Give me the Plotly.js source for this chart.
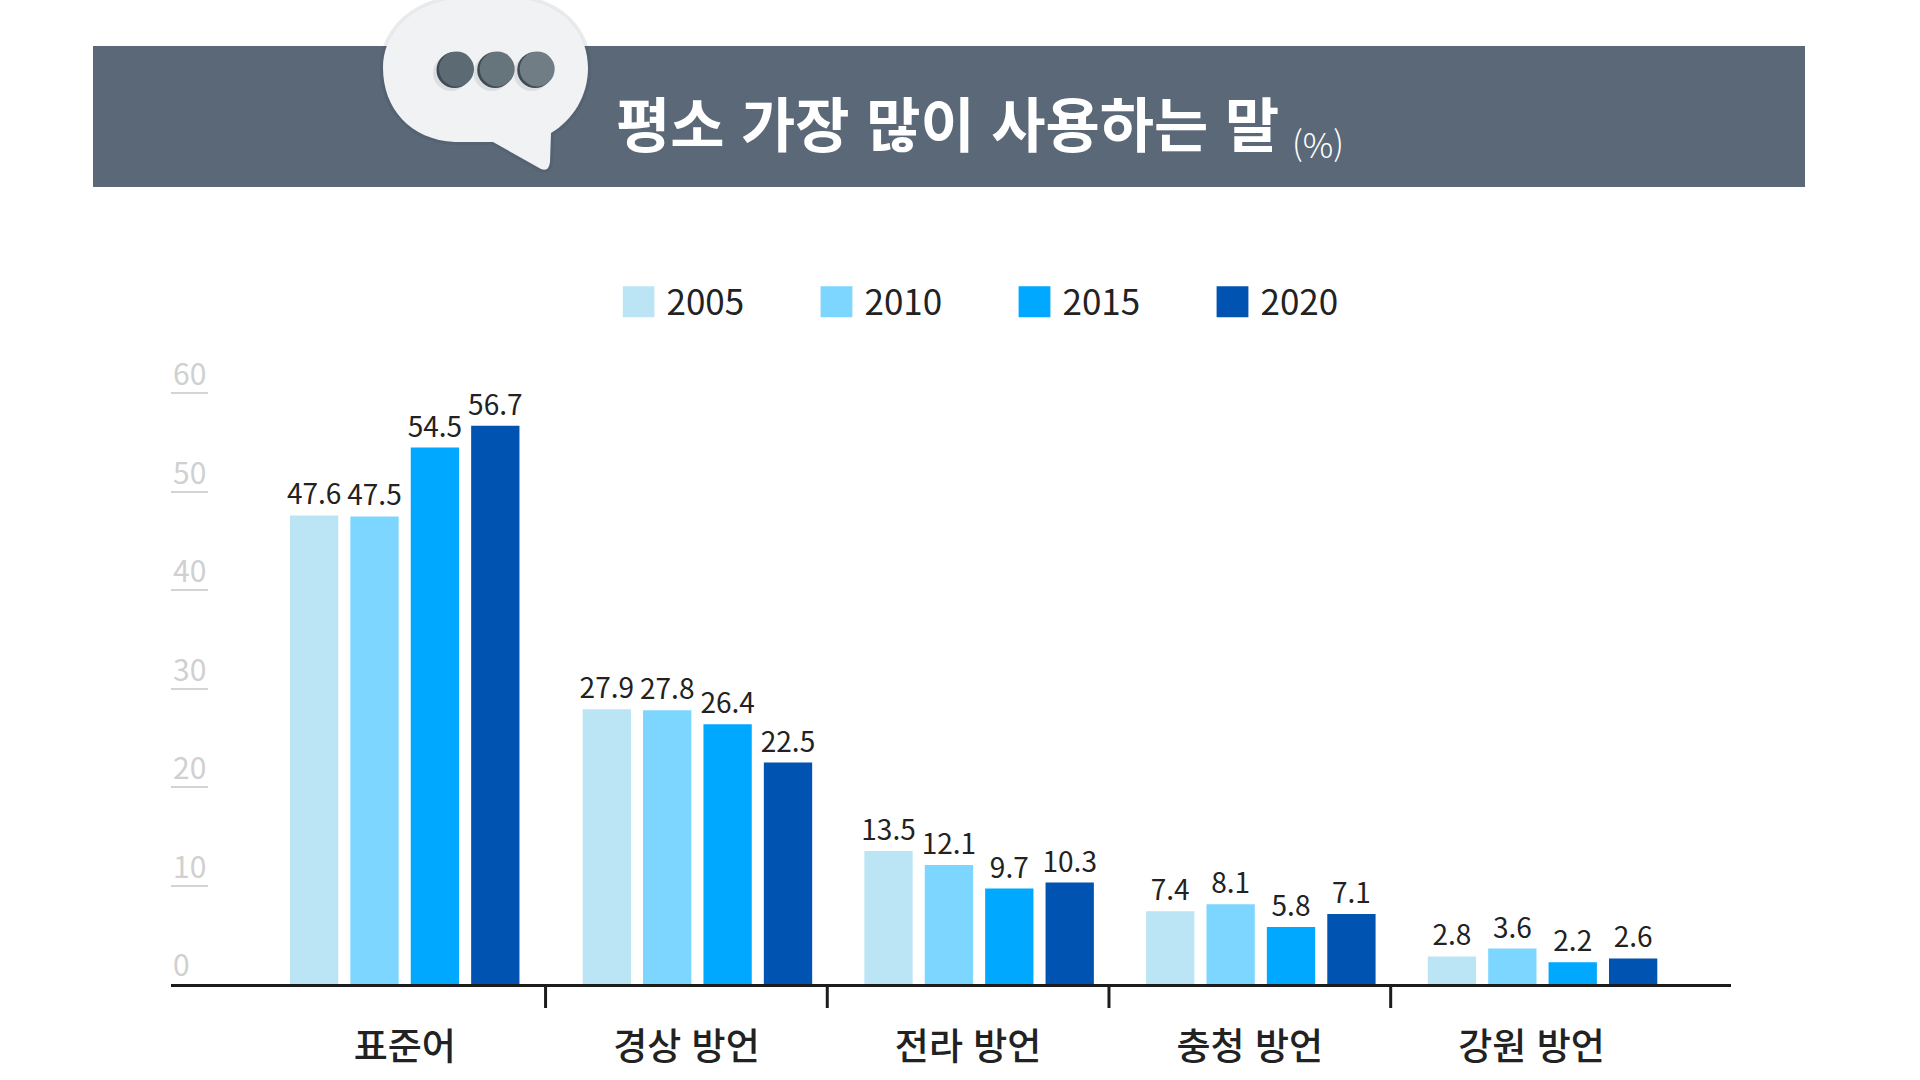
<!DOCTYPE html>
<html lang="ko">
<head>
<meta charset="utf-8">
<script src="https://cdn.plot.ly/plotly-3.0.1.min.js"></script>
<style>
html,body{margin:0;padding:0;background:#fff}
#chart{width:1920px;height:1080px}
.legendpoints path{transform:translate(16px,0) scale(2.65,2.6)}
</style>
</head>
<body>
<div id="chart"></div>
<script>
const categories = ['표준어','경상 방언','전라 방언','충청 방언','강원 방언'];
const years = ['2005','2010','2015','2020'];
const v2005 = [47.6,27.9,13.5,7.4,2.8];
const v2010 = [47.5,27.8,12.1,8.1,3.6];
const v2015 = [54.5,26.4,9.7,5.8,2.2];
const v2020 = [56.7,22.5,10.3,7.1,2.6];
const seriesValues = [v2005,v2010,v2015,v2020];
const seriesColors = ['#bbe5f5','#7dd6ff','#00a8ff','#0053b0'];
const yTicks = [0,10,20,30,40,50,60];
const titleText = '평소 가장 많이 사용하는 말';
const unitText = '(%)';

const W = 1920, H = 1080;
const px = x => (x / W).toFixed(5);
const py = y => (1 - y / H).toFixed(5);
const KR = '"Noto Sans CJK KR","Noto Sans",sans-serif';

const barW = 0.1715, pitch = 0.2144;
const groupShift = [0,0.039,0.039,0.039,0.039];

const traces = seriesValues.map((vals,k)=>({
  type:'bar', name:years[k], x:categories, y:vals,
  width:barW,
  offset:categories.map((c,i)=>(k-1.5)*pitch - barW/2 + groupShift[i]),
  marker:{color:seriesColors[k], line:{width:0}},
  text:vals.map(v=>v.toFixed(1)), textposition:'outside', cliponaxis:false,
  constraintext:'none',
  textangle:0,
  textfont:{family:KR,size:28,color:'#222222'},
  hoverinfo:'x+y+name'
}));

const bubblePath =
  `M ${px(383)} ${py(68)} C ${px(383)} ${py(30)} ${px(415)} ${py(-2)} ${px(470)} ${py(-3)} `+
  `L ${px(505)} ${py(-3)} C ${px(560)} ${py(-2)} ${px(588)} ${py(30)} ${px(588)} ${py(68)} `+
  `C ${px(588)} ${py(96)} ${px(573)} ${py(120)} ${px(551)} ${py(133)} `+
  `L ${px(550)} ${py(162)} Q ${px(549)} ${py(172)} ${px(541)} ${py(169)} `+
  `L ${px(493)} ${py(142)} L ${px(455)} ${py(142)} `+
  `C ${px(410)} ${py(140)} ${px(383)} ${py(108)} ${px(383)} ${py(68)} Z`;

const circle = (cx,cy,r,color)=>({type:'circle',xref:'paper',yref:'paper',
  x0:px(cx-r),x1:px(cx+r),y0:py(cy+r),y1:py(cy-r),fillcolor:color,line:{width:0}});

const dotX = [456,496.7,536.7];
const dotFace = ['#5c6a74','#66747c','#707d85'];
const shapes = [
  {type:'rect',xref:'paper',yref:'paper',x0:px(93),x1:px(1805),y0:py(187),y1:py(46),fillcolor:'#5a6878',line:{width:0}},
  {type:'path',xref:'paper',yref:'paper',path:bubblePath,fillcolor:'rgba(40,50,60,0.18)',line:{color:'rgba(40,50,60,0.10)',width:6}},
  {type:'path',xref:'paper',yref:'paper',path:bubblePath,fillcolor:'#f1f2f4',line:{width:0}},
  ...dotX.map(x=>circle(x-5,73,18,'#dcdee1')),
  ...dotX.map(x=>circle(x-1.5,70,18,'#3f4a52')),
  ...dotX.map((x,i)=>circle(x+0.5,69,17.5,dotFace[i]))
];
// separators between the category groups
categories.slice(1).forEach((c,i)=>shapes.push({
  type:'line',xref:'x',yref:'paper',ysizemode:'pixel',yanchor:(H-984)/H,
  x0:i+0.5,x1:i+0.5,y0:0,y1:-24,line:{color:'#1c1c1c',width:3}
}));

const layout = {
  width:W,height:H,margin:{l:0,r:0,t:0,b:0},
  paper_bgcolor:'#ffffff',plot_bgcolor:'#ffffff',
  barmode:'overlay',
  font:{family:KR},
  xaxis:{
    domain:[171/W,1731/W],type:'category',categoryorder:'array',categoryarray:categories,
    range:[-0.8296,4.708],
    showline:true,linecolor:'#1c1c1c',linewidth:3,ticks:'',showgrid:false,zeroline:false,
    ticklabelstandoff:29,
    tickfont:{family:KR,size:37,color:'#222222',weight:500}
  },
  yaxis:{
    domain:[(H-984)/H,(H-354)/H],range:[0,64],
    tickvals:yTicks,showticklabels:false,
    ticks:'inside',ticklen:37,tickwidth:2,tickcolor:'#d4d4d4',
    showgrid:false,zeroline:false,showline:false
  },
  legend:{
    orientation:'h',x:622.5/W,xanchor:'left',y:(H-302)/H,yanchor:'middle',
    font:{family:KR,size:35,color:'#222222'},
    itemwidth:34,entrywidth:149,entrywidthmode:'pixels',
    traceorder:'normal',bgcolor:'rgba(0,0,0,0)',itemclick:false,itemdoubleclick:false
  },
  showlegend:true,
  shapes,
  annotations:[
    {xref:'paper',yref:'paper',x:614/W,y:(H-122)/H,xanchor:'left',yanchor:'middle',showarrow:false,
     text:titleText,font:{family:KR,size:59,color:'#ffffff',weight:700}},
    {xref:'paper',yref:'paper',x:1290/W,y:(H-143)/H,xanchor:'left',yanchor:'middle',showarrow:false,
     text:unitText,font:{family:KR,size:34,color:'#ffffff',weight:300}},
    ...yTicks.map(t=>({xref:'paper',yref:'y',x:171/W,y:t,yshift:21,xanchor:'left',yanchor:'middle',showarrow:false,
     text:String(t),font:{family:KR,size:30,color:'#d0d0d0',weight:400}}))
  ]
};
Plotly.newPlot('chart',traces,layout,{displayModeBar:false,responsive:false});
</script>
</body>
</html>
